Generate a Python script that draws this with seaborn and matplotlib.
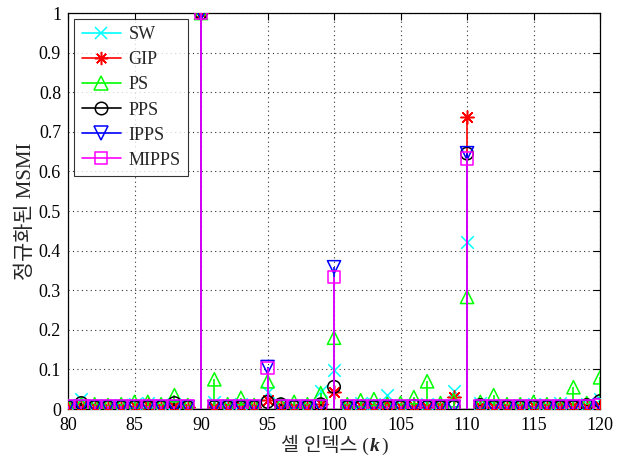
"""
Stem chart of normalized MSMI per cell index for six estimators.
"""
import matplotlib
matplotlib.use("Agg")
import matplotlib.pyplot as plt
from matplotlib.lines import Line2D
from matplotlib.offsetbox import TextArea, HPacker, AnchoredOffsetbox
import numpy as np
import seaborn as sns

k = list(range(80, 121))

sw = [0.010, 0.025, 0.010, 0.008, 0.010, 0.012, 0.015, 0.010, 0.012, 0.008,
      1.000,
      0.018, 0.010, 0.012, 0.008, 0.043, 0.010, 0.008, 0.010, 0.045,
      0.098,
      0.010, 0.015, 0.012, 0.035, 0.010, 0.008, 0.012, 0.010, 0.045,
      0.422,
      0.015, 0.010, 0.008, 0.010, 0.012, 0.010, 0.015, 0.010, 0.012, 0.025]
gip = [0.005, 0.008, 0.006, 0.006, 0.005, 0.008, 0.010, 0.006, 0.008, 0.006,
       1.000,
       0.006, 0.006, 0.008, 0.005, 0.022, 0.008, 0.006, 0.006, 0.012,
       0.044,
       0.006, 0.008, 0.006, 0.012, 0.006, 0.008, 0.006, 0.008, 0.030,
       0.737,
       0.008, 0.006, 0.006, 0.006, 0.008, 0.006, 0.008, 0.008, 0.006, 0.008]
ps = [0.008, 0.012, 0.012, 0.010, 0.012, 0.018, 0.018, 0.012, 0.035, 0.010,
      1.000,
      0.075, 0.012, 0.028, 0.010, 0.070, 0.012, 0.018, 0.012, 0.040,
      0.180,
      0.012, 0.022, 0.025, 0.012, 0.015, 0.030, 0.070, 0.015, 0.022,
      0.283,
      0.018, 0.035, 0.012, 0.012, 0.018, 0.012, 0.012, 0.055, 0.015, 0.080]
pps = [0.005, 0.015, 0.005, 0.005, 0.005, 0.005, 0.005, 0.005, 0.015, 0.005,
       1.000,
       0.005, 0.005, 0.005, 0.005, 0.018, 0.012, 0.005, 0.005, 0.012,
       0.056,
       0.005, 0.005, 0.005, 0.005, 0.005, 0.008, 0.005, 0.005, 0.005,
       0.645,
       0.010, 0.005, 0.005, 0.005, 0.005, 0.005, 0.005, 0.005, 0.010, 0.020]
ipps = [0.005, 0.005, 0.005, 0.005, 0.005, 0.005, 0.005, 0.005, 0.005, 0.005,
        1.000,
        0.005, 0.005, 0.005, 0.005, 0.106, 0.005, 0.005, 0.005, 0.005,
        0.358,
        0.005, 0.005, 0.005, 0.005, 0.005, 0.005, 0.005, 0.005, 0.005,
        0.646,
        0.005, 0.005, 0.005, 0.005, 0.005, 0.005, 0.005, 0.005, 0.005, 0.010]
mipps = [0.008, 0.008, 0.008, 0.008, 0.008, 0.008, 0.008, 0.008, 0.008, 0.008,
         1.000,
         0.008, 0.008, 0.008, 0.008, 0.103, 0.008, 0.008, 0.008, 0.008,
         0.333,
         0.008, 0.008, 0.008, 0.008, 0.008, 0.008, 0.008, 0.008, 0.008,
         0.633,
         0.008, 0.008, 0.008, 0.008, 0.008, 0.008, 0.008, 0.008, 0.008, 0.010]

labels = ["SW", "GIP", "PS", "PPS", "IPPS", "MIPPS"]
series = [sw, gip, ps, pps, ipps, mipps]
colors = ["#00ffff", "#ff0000", "#00ff00", "#000000", "#0000ff", "#ff00ff"]
markers = ["x", (8, 2, 0), "^", "o", "v", "s"]
filled = [False, False, True, True, True, True]
msize = [9, 9.5, 9.5, 9, 9.5, 9]

sns.set_style("white")
plt.rcParams["font.family"] = ["Liberation Serif", "Noto Sans CJK KR"]

fig = plt.figure(figsize=(6.24, 4.57), dpi=100)
ax = fig.add_axes([0.109, 0.105, 0.8526, 0.8665])

for i, (lab, vals) in enumerate(zip(labels, series)):
    z = 3 + i
    ax.vlines(k, 0, vals, color=colors[i], lw=1.2, zorder=z)
    if filled[i]:
        sns.scatterplot(x=k, y=vals, marker=markers[i], s=msize[i] ** 2,
                        facecolors="none", edgecolors=colors[i],
                        linewidth=1.1, ax=ax, zorder=z + 0.5, legend=False)
    else:
        ax.scatter(k, vals, marker=markers[i], s=msize[i] ** 2,
                   color=colors[i], linewidth=1.1, zorder=z + 0.5)

ax.axhline(0, color="black", lw=1.0, zorder=2.5)

ax.set_xlim(80, 120)
ax.set_ylim(0, 1)
ax.set_xticks(np.arange(80, 121, 5))
ax.set_yticks(np.arange(0, 1.01, 0.1))
ax.set_yticklabels(["0", "0.1", "0.2", "0.3", "0.4", "0.5",
                    "0.6", "0.7", "0.8", "0.9", "1"])
ax.tick_params(direction="in", length=5, width=0.8, labelsize=13,
               top=True, right=True, colors="black")
ax.tick_params(axis="x", pad=6)
ax.tick_params(axis="y", pad=5)
for s in ax.spines.values():
    s.set_color("black")
    s.set_linewidth(0.9)
ax.grid(True, color="#333333", linestyle=(0, (1, 3)), lw=0.8)

# x label: Korean text plus bold-italic k
xl_parts = [
    TextArea("셀 인덱스 (", textprops=dict(fontsize=14)),
    TextArea("k", textprops=dict(fontsize=14, fontstyle="italic",
                                 fontweight="bold")),
    TextArea(")", textprops=dict(fontsize=14)),
]
xl_box = HPacker(children=xl_parts, align="baseline", pad=0, sep=1)
xl_anchor = AnchoredOffsetbox(loc="upper center", child=xl_box, pad=0,
                              frameon=False, bbox_to_anchor=(0.5, -0.064),
                              bbox_transform=ax.transAxes, borderpad=0)
ax.add_artist(xl_anchor)

ax.set_ylabel("정규화된 MSMI", fontsize=15, labelpad=2)

handles = []
for i, lab in enumerate(labels):
    handles.append(Line2D([], [], color=colors[i], marker=markers[i],
                          markersize=msize[i], lw=1.2,
                          markerfacecolor="none", markeredgewidth=1.1,
                          label=lab))
leg = ax.legend(handles=handles, loc="upper left",
                bbox_to_anchor=(0.012, 0.985), fontsize=13,
                frameon=True, fancybox=False, handlelength=2.2,
                labelspacing=0.45, borderpad=0.4, handletextpad=0.4,
                borderaxespad=0)
leg.get_frame().set_edgecolor("black")
leg.get_frame().set_linewidth(0.8)
leg.set_zorder(20)

plt.savefig("out.png", dpi=100)
plt.close()
